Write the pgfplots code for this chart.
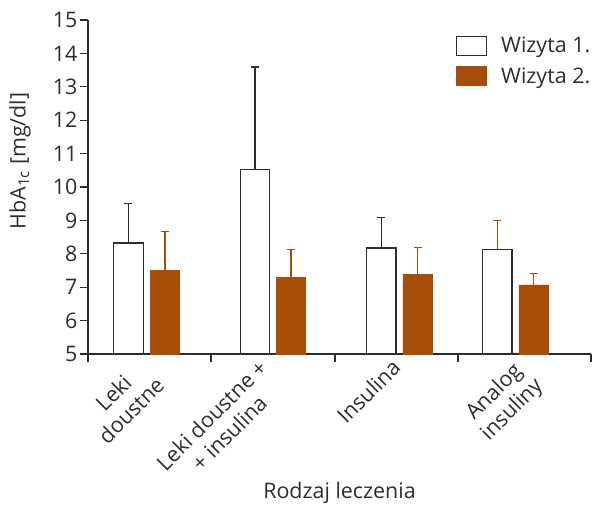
\documentclass[border=0pt]{standalone}
\usepackage{fontspec}
\setmainfont{Open Sans}
\usepackage{pgfplots}
\pgfplotsset{compat=1.18}
\definecolor{rust}{RGB}{166,77,8}
\definecolor{ink}{RGB}{45,45,45}
\newcommand{\lblfont}{\fontsize{21.5}{25}\selectfont}
\begin{document}
\begin{tikzpicture}
\begin{axis}[
  name=ax, scale only axis, width=503bp, height=334bp,
  xmin=88, xmax=591, ymin=5, ymax=15,
  axis x line=bottom, axis y line=left,
  axis line style={-, ink, line width=1.3bp},
  tick align=outside, major tick length=8bp,
  tick style={ink, line width=1.3bp},
  ytick={5,6,...,15},
  /pgf/number format/assume math mode=true,
  ticklabel style={font=\lblfont, text=ink},
  yticklabel style={xshift=1bp},
  xtick={88,211,335,458,591}, xticklabels={},
  % category names, set slanted beneath each pair of bars
  extra x ticks={138,258.5,391.7,515.7},
  extra x tick labels={{Leki\\doustne},{Leki doustne +\\+ insulina},Insulina,{Analog\\insuliny}},
  extra x tick style={major tick length=0pt,
    xticklabel style={xshift=-1.4bp, yshift=1bp, rotate=45, anchor=north east, align=center}},
  xlabel={Rodzaj leczenia},
  xlabel style={font=\lblfont, text=ink, at={(rel axis cs:0.5,-0.416)}, anchor=center},
  ylabel={HbA\textsubscript{1c} [mg/dl]},
  ylabel style={font=\lblfont, text=ink, at={(rel axis cs:-0.135,0.578)}, anchor=center},
  legend style={at={(rel axis cs:0.731,0.955)}, anchor=north west, draw=none, fill=none,
    font=\lblfont, text=ink, row sep=9bp, column sep=12bp, inner sep=0pt},
  legend cell align=left,
]
% first visit, groups 1-3
\addplot[ybar, bar width=29.5, bar shift=0pt, fill=white, draw=ink, line width=1.3bp,
  legend image code/.code={\draw[fill=white, draw=ink, line width=1.3bp] (0bp,-9.5bp) rectangle (30bp,9.5bp);},
  error bars/.cd, y dir=plus, y explicit,
  error bar style={ink, line width=1.3bp},
  error mark options={ink, line width=1.3bp, mark size=4bp, rotate=90}]
  coordinates {(128.5,8.32) +- (0,1.18) (255,10.52) +- (0,3.07) (381.3,8.17) +- (0,0.91)};
\addlegendentry{Wizyta 1.}
% second visit
\addplot[ybar, bar width=29.5, bar shift=0pt, fill=rust, draw=rust, line width=0.6bp,
  legend image code/.code={\fill[rust] (0bp,-9.5bp) rectangle (30bp,9.5bp);},
  error bars/.cd, y dir=plus, y explicit,
  error bar style={rust, line width=1.3bp},
  error mark options={rust, line width=1.3bp, mark size=4bp, rotate=90}]
  coordinates {(165,7.50) +- (0,1.17) (291,7.30) +- (0,0.82) (417.7,7.39) +- (0,0.79) (533.7,7.07) +- (0,0.33)};
\addlegendentry{Wizyta 2.}
% first visit, group 4 (error bar drawn in rust)
\addplot[ybar, bar width=29.5, bar shift=0pt, fill=white, draw=ink, line width=1.3bp, forget plot,
  error bars/.cd, y dir=plus, y explicit,
  error bar style={rust, line width=1.3bp},
  error mark options={rust, line width=1.3bp, mark size=4bp, rotate=90}]
  coordinates {(497.3,8.13) +- (0,0.87)};
\end{axis}
\pgfresetboundingbox
\path[use as bounding box] ([shift={(-88bp,-151bp)}]ax.south west) rectangle ([shift={(4bp,20bp)}]ax.north east);
\end{tikzpicture}
\end{document}
